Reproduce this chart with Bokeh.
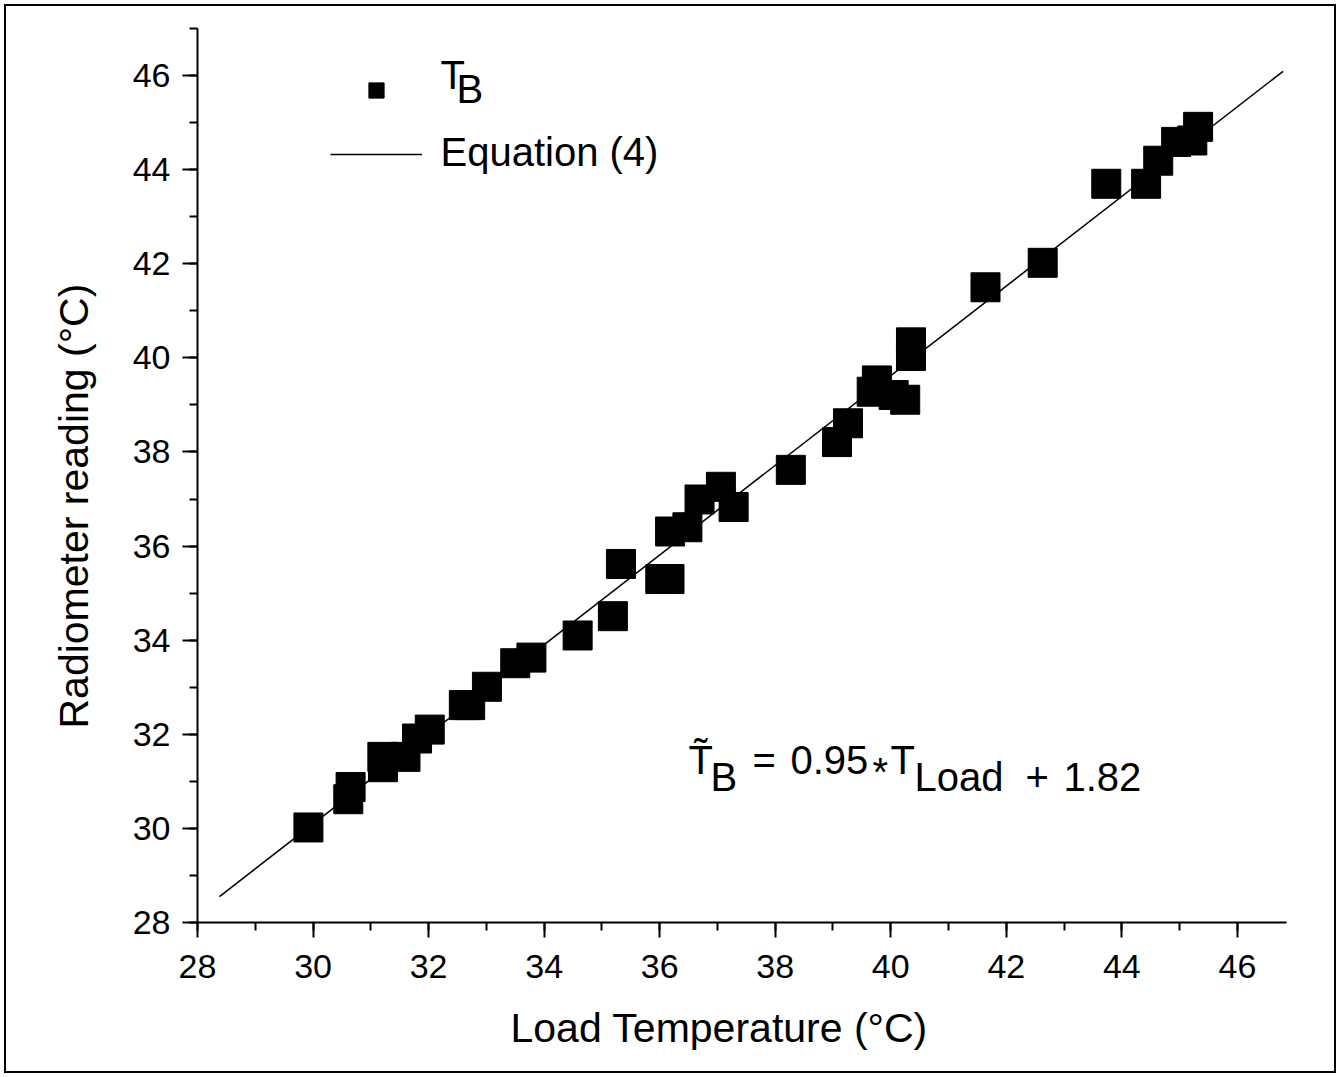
from bokeh.plotting import figure
from bokeh.models import Range1d, SingleIntervalTicker, Legend, LegendItem, Label, Title
from bokeh.embed import file_html
from bokeh.resources import INLINE

# ---- data ----
load_temp = [29.92, 30.61, 30.65, 31.21, 31.20, 31.60, 31.80, 32.02, 32.61, 32.72,
             33.01, 33.50, 33.78, 34.58, 35.19, 35.33, 36.01, 36.17, 36.18, 36.48,
             36.69, 37.06, 37.28, 38.27, 39.07, 39.26, 39.67, 39.76, 40.05, 40.25,
             40.35, 40.35, 41.64, 42.63, 43.73, 44.42, 44.63, 44.94, 45.22, 45.32]
radiometer = [30.02, 30.62, 30.88, 31.30, 31.52, 31.52, 31.91, 32.10, 32.62, 32.62,
              33.01, 33.51, 33.63, 34.10, 34.51, 35.62, 35.30, 35.30, 36.31, 36.40,
              36.99, 37.26, 36.83, 37.62, 38.21, 38.61, 39.28, 39.52, 39.21, 39.11,
              40.33, 40.04, 41.50, 42.02, 43.70, 43.70, 44.19, 44.59, 44.62, 44.91]
eq_x = [28.38, 46.79]
eq_y = [28.55, 46.09]

x_title = "Load Temperature (°C)"
y_title = "Radiometer reading (°C)"

X0, X1 = 28, 46.85
Y0, Y1 = 28, 47
W, H = 1340, 1077
BL, BR, BT, BB = 197, 54, 28, 155
FW = W - BL - BR
FH = H - BT - BB

FONT = "Liberation Sans"
OFF = 14  # label baseline correction (px)


def dx(px):
    return X0 + (px - BL) * (X1 - X0) / FW


def dy(py):
    return Y0 + (H - BB - py) * (Y1 - Y0) / FH


p = figure(width=W, height=H, x_range=Range1d(X0, X1), y_range=Range1d(Y0, Y1),
           output_backend="svg", toolbar_location=None,
           min_border_left=BL, min_border_right=BR, min_border_top=BT, min_border_bottom=BB)
p.styles = {"outline": "2px solid black", "outline-offset": "-6px"}
p.border_fill_alpha = 0
p.background_fill_color = "white"
p.outline_line_color = None
p.xgrid.visible = False
p.ygrid.visible = False

for ax in (p.xaxis[0], p.yaxis[0]):
    ax.ticker = SingleIntervalTicker(interval=2, num_minor_ticks=2)
    ax.axis_line_width = 2
    ax.axis_line_color = "black"
    ax.major_tick_line_width = 2
    ax.minor_tick_line_width = 2
    ax.major_tick_line_color = "black"
    ax.minor_tick_line_color = "black"
    ax.major_tick_out = 15
    ax.major_tick_in = 0
    ax.minor_tick_out = 8
    ax.minor_tick_in = 0
    ax.major_label_text_font = FONT
    ax.major_label_text_font_size = "34px"
    ax.major_label_text_color = "black"

p.xaxis[0].major_label_standoff = 17
p.yaxis[0].major_label_standoff = 12

# axis titles as side titles (allows off-centre placement like the original)
p.add_layout(Title(text=x_title, align="left", offset=313, standoff=44,
                   text_font=FONT, text_font_size="41px", text_font_style="normal",
                   text_color="black"), "below")
p.add_layout(Title(text=y_title, align="left", offset=194, standoff=65,
                   text_font=FONT, text_font_size="41px", text_font_style="normal",
                   text_color="black"), "left")

sc = p.scatter(load_temp, radiometer, marker="square", size=29,
               fill_color="black", line_color="black")
ln = p.line(eq_x, eq_y, line_color="black", line_width=1.5)

legend = Legend(items=[LegendItem(label=" ", renderers=[sc]),
                       LegendItem(label=" ", renderers=[ln])],
                location=(330 - BL, H - BB - 173), glyph_width=92, glyph_height=38,
                label_height=38, label_width=1, spacing=26, padding=0, margin=0,
                label_standoff=0, label_text_font_size="4px",
                border_line_color=None, background_fill_alpha=0)
p.add_layout(legend, "center")


def lab(px, py, text, size="40px", align="left"):
    p.add_layout(Label(x=dx(px), y=dy(py - OFF), text=text, text_font=FONT,
                       text_font_size=size, text_color="black",
                       text_baseline="alphabetic", text_align=align))


# legend texts
lab(440, 88, "T")
lab(456, 102, "B")
lab(440, 165, "Equation (4)")

# equation annotation
lab(688, 773, "T\u0303")
lab(710, 790, "B")
lab(752, 773, "=")
lab(790, 773, "0.95")
lab(872, 785, "*")
lab(890, 773, "T")
lab(914, 790, "Load")
lab(1025, 790, "+")
lab(1063, 790, "1.82")

open("out.html", "w").write(file_html(p, INLINE))
